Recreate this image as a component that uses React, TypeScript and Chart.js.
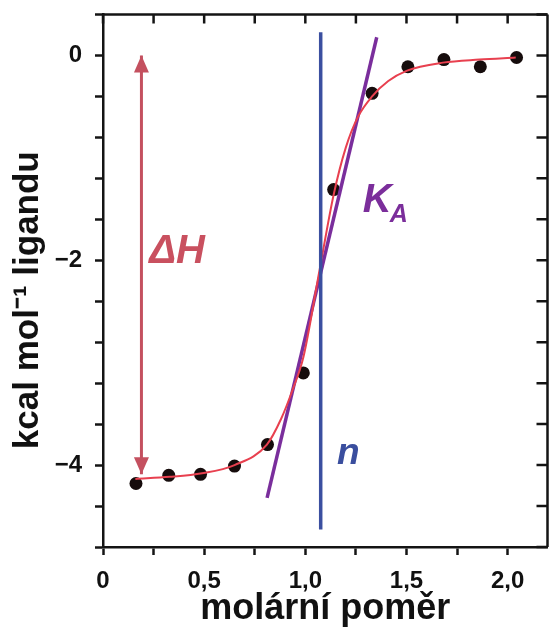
import React, { useEffect, useRef } from "react";
import { Chart, registerables } from "chart.js";

Chart.register(...registerables);

// measured titration points (molar ratio vs heat, kcal/mol of ligand)
const molarRatio = [0.163, 0.325, 0.482, 0.65, 0.813, 0.99, 1.14, 1.33, 1.507, 1.685, 1.865, 2.044];
const heat = [-4.18, -4.1, -4.09, -4.01, -3.8, -3.1, -1.31, -0.37, -0.11, -0.04, -0.11, -0.02];

// fitted binding curve
const fitRatio = [0.16, 0.33, 0.49, 0.65, 0.81, 0.88, 0.94, 0.99, 1.07, 1.14, 1.2, 1.26, 1.33, 1.41, 1.5, 1.68, 1.86, 2.04];
const fitHeat = [-4.135, -4.115, -4.08, -4.0, -3.8, -3.55, -3.25, -2.95, -2.1, -1.36, -0.9, -0.6, -0.4, -0.25, -0.15, -0.07, -0.04, -0.02];

// tangent at inflection (K_A)
const tangentRatio = [0.811, 1.353];
const tangentHeat = [-4.32, 0.178];

// stoichiometry line (n)
const nRatio = [1.076, 1.076];
const nHeat = [-4.63, 0.227];

// enthalpy arrow (ΔH)
const dHRatio = [0.19, 0.19];
const dHHeat = [-4.09, 0.0];

// axis ticks
const xTickValues = [0, 0.25, 0.5, 0.75, 1.0, 1.25, 1.5, 1.75, 2.0];
const xTickLabels = ["0", "", "0,5", "", "1,0", "", "1,5", "", "2,0"];
const yTickValues = [-4.8, -4.4, -4.0, -3.6, -3.2, -2.8, -2.4, -2.0, -1.6, -1.2, -0.8, -0.4, 0, 0.4];
const yTickLabels = ["", "", "\u22124", "", "", "", "", "\u22122", "", "", "", "", "0", ""];

const X_MIN = 0;
const X_MAX = 2.197;
const Y_MIN = -4.8;
const Y_MAX = 0.4;

const FONT = "'Liberation Sans', Arial, Helvetica, sans-serif";

const annotations = [
  { text: "\u0394H", sub: "", x: 0.228, y: -2.03, color: "#C9505F", size: 40, subSize: 0 },
  { text: "K", sub: "A", x: 1.284, y: -1.526, color: "#7B2E9B", size: 40, subSize: 25 },
  { text: "n", sub: "", x: 1.157, y: -3.99, color: "#3A4E9E", size: 37, subSize: 0 },
];

const ARROW_INDEX = 4;
const ARROW_COLOR = "#C4505F";
const AXIS_COLOR = "#141414";
const AXIS_WIDTH = 2.5;

const pts = (xs: number[], ys: number[]) => xs.map((v, i) => ({ x: v, y: ys[i] }));

const overlayPlugin = {
  id: "overlay",
  afterDatasetsDraw(chart: any) {
    const { ctx, scales } = chart;
    const xs = scales.x;
    const ys = scales.y;
    ctx.save();
    // arrow heads on the ΔH shaft
    const meta = chart.getDatasetMeta(ARROW_INDEX);
    const p0 = meta.data[0];
    const p1 = meta.data[1];
    const headLen = 17;
    const headHalf = 7.5;
    ctx.fillStyle = ARROW_COLOR;
    const head = (px: number, py: number, dir: number) => {
      ctx.beginPath();
      ctx.moveTo(px, py);
      ctx.lineTo(px - headHalf, py + dir * headLen);
      ctx.lineTo(px + headHalf, py + dir * headLen);
      ctx.closePath();
      ctx.fill();
    };
    head(p1.x, p1.y, 1);
    head(p0.x, p0.y, -1);

    // text labels
    ctx.textBaseline = "alphabetic";
    ctx.textAlign = "left";
    for (const a of annotations) {
      const px = xs.getPixelForValue(a.x);
      const py = ys.getPixelForValue(a.y);
      ctx.fillStyle = a.color;
      ctx.font = `italic bold ${a.size}px ${FONT}`;
      ctx.fillText(a.text, px, py);
      if (a.sub) {
        const w = ctx.measureText(a.text).width;
        ctx.font = `italic bold ${a.subSize}px ${FONT}`;
        ctx.fillText(a.sub, px + w - 2, py + 10);
      }
    }
    ctx.restore();
  },
  afterDraw(chart: any) {
    // mirrored frame (top and right) with inward ticks at the scales' tick values
    const { ctx, chartArea, scales } = chart;
    const { left, right, top, bottom } = chartArea;
    ctx.save();
    ctx.strokeStyle = AXIS_COLOR;
    ctx.lineWidth = AXIS_WIDTH;
    ctx.beginPath();
    ctx.moveTo(left, top);
    ctx.lineTo(right, top);
    ctx.moveTo(right, top);
    ctx.lineTo(right, bottom);
    ctx.stroke();
    ctx.beginPath();
    for (const t of scales.x.ticks) {
      const px = scales.x.getPixelForValue(t.value);
      ctx.moveTo(px, top);
      ctx.lineTo(px, top + 9);
    }
    for (const t of scales.y.ticks) {
      const py = scales.y.getPixelForValue(t.value);
      ctx.moveTo(right, py);
      ctx.lineTo(right - 11, py);
    }
    ctx.stroke();
    ctx.restore();
  },
};

export default function App() {
  const ref = useRef<HTMLCanvasElement | null>(null);

  useEffect(() => {
    document.body.style.margin = "0";
    const canvas = ref.current;
    if (!canvas) return;

    const tickFont = { family: FONT, size: 24, weight: "bold" as const };

    const chart = new Chart(canvas, {
      type: "scatter",
      data: {
        datasets: [
          {
            label: "n",
            data: pts(nRatio, nHeat),
            showLine: true,
            borderColor: "#3B4FA0",
            borderWidth: 3.5,
            pointRadius: 0,
          },
          {
            label: "fit",
            data: pts(fitRatio, fitHeat),
            showLine: true,
            borderColor: "#E8404F",
            borderWidth: 2,
            pointRadius: 0,
            cubicInterpolationMode: "monotone",
          },
          {
            label: "KA",
            data: pts(tangentRatio, tangentHeat),
            showLine: true,
            borderColor: "#7A2E9C",
            borderWidth: 3.5,
            pointRadius: 0,
          },
          {
            label: "data",
            data: pts(molarRatio, heat),
            showLine: false,
            backgroundColor: "#160c0c",
            borderColor: "#160c0c",
            borderWidth: 0,
            pointRadius: 6.5,
          },
          {
            label: "dH",
            data: pts(dHRatio, dHHeat),
            showLine: true,
            borderColor: ARROW_COLOR,
            borderWidth: 3,
            pointRadius: 0,
          },
        ],
      },
      options: {
        animation: false,
        responsive: true,
        maintainAspectRatio: false,
        layout: { padding: { left: 0, top: 14.5, right: 2, bottom: 0 } },
        plugins: { legend: { display: false }, tooltip: { enabled: false } },
        scales: {
          x: {
            type: "linear",
            position: "bottom",
            min: X_MIN,
            max: X_MAX,
            border: { display: true, color: AXIS_COLOR, width: AXIS_WIDTH },
            grid: { drawOnChartArea: false, drawTicks: true, tickLength: 8, tickWidth: AXIS_WIDTH, tickColor: AXIS_COLOR },
            afterBuildTicks: (s: any) => {
              s.ticks = xTickValues.map((v) => ({ value: v }));
            },
            ticks: {
              autoSkip: false,
              maxRotation: 0,
              padding: 12,
              color: "#111",
              font: tickFont,
              callback: (_v: any, i: number) => xTickLabels[i] ?? "",
            },
            title: {
              display: true,
              text: "molární poměr",
              color: "#111",
              font: { family: FONT, size: 36, weight: "bold" },
              padding: { top: 0, bottom: 6 },
            },
            afterFit: (s: any) => {
              s.height = 90;
              s.paddingLeft = 0;
              s.paddingRight = 0;
            },
          },
          y: {
            type: "linear",
            position: "left",
            min: Y_MIN,
            max: Y_MAX,
            border: { display: true, color: AXIS_COLOR, width: AXIS_WIDTH },
            grid: { drawOnChartArea: false, drawTicks: true, tickLength: 8, tickWidth: AXIS_WIDTH, tickColor: AXIS_COLOR },
            afterBuildTicks: (s: any) => {
              s.ticks = yTickValues.map((v) => ({ value: v }));
            },
            ticks: {
              autoSkip: false,
              padding: 13,
              color: "#111",
              font: tickFont,
              callback: (_v: any, i: number) => yTickLabels[i] ?? "",
            },
            title: {
              display: true,
              text: "kcal mol\u207B\u00B9 ligandu    ",
              color: "#111",
              font: { family: FONT, size: 35, weight: "bold" },
              padding: { top: 7, bottom: 0 },
            },
            afterFit: (s: any) => {
              s.width = 103;
              s.paddingTop = 0;
              s.paddingBottom = 0;
            },
          },
        },
      } as any,
      plugins: [overlayPlugin],
    });

    return () => chart.destroy();
  }, []);

  return (
    <div style={{ width: 549, height: 637, overflow: "hidden", background: "#fff" }}>
      <div style={{ width: 554, height: 637, position: "relative" }}>
        <canvas ref={ref} />
      </div>
    </div>
  );
}
